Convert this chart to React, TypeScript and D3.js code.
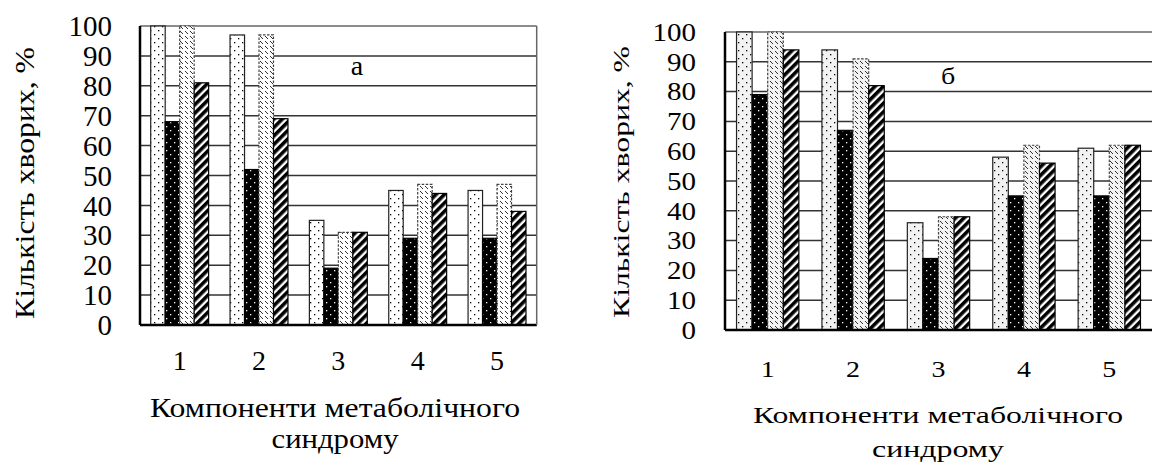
import React from "react";
import * as d3 from "d3";

const categories = ["1", "2", "3", "4", "5"];
const yTicks = [0, 10, 20, 30, 40, 50, 60, 70, 80, 90, 100];

// panel "а"
const a1 = [100, 97, 35, 45, 45];
const a2 = [68, 52, 19, 29, 29];
const a3 = [100, 97, 31, 47, 47];
const a4 = [81, 69, 31, 44, 38];

// panel "б"
const b1 = [100, 94, 36, 58, 61];
const b2 = [79, 67, 24, 45, 45];
const b3 = [100, 91, 38, 62, 62];
const b4 = [94, 82, 38, 56, 62];

const yTitle = "Кількість  хворих, %";
const xTitle1 = "Компоненти метаболічного";
const xTitle2 = "синдрому";

const FONT = "Liberation Serif, Times New Roman, Tinos, DejaVu Serif, serif";

type Panel = {
  id: string;
  label: string;
  series: number[][];
  x0: number;
  x1: number;
  yTop: number;
  yBottom: number;
  labelX: number;
  labelY: number;
  tickRight: number;
  yTitleX: number;
  yTitleY: number;
  xTickY: number;
  xTitleY1: number;
  xTitleY2: number;
  xTitleCx: number;
  x2Len: number;
  light: string;
  sy: number;
  rightBorder: boolean;
};

const panels: Panel[] = [
  {
    id: "a", label: "а", series: [a1, a2, a3, a4],
    x0: 140, x1: 536.7, yTop: 26, yBottom: 325,
    labelX: 357, labelY: 75, tickRight: 112,
    yTitleX: 24, yTitleY: 183, xTickY: 370, xTitleY1: 417, xTitleY2: 448, xTitleCx: 335, x2Len: 127,
    light: "#ffffff", sy: 1, rightBorder: true,
  },
  {
    id: "b", label: "б", series: [b1, b2, b3, b4],
    x0: 725, x1: 1152, yTop: 32, yBottom: 330,
    labelX: 948, labelY: 84, tickRight: 696,
    yTitleX: 621, yTitleY: 182, xTickY: 377, xTitleY1: 423, xTitleY2: 457, xTitleCx: 938, x2Len: 132,
    light: "#f2f2f2", sy: 0.86, rightBorder: false,
  },
];

function Patterns({ p }: { p: Panel }) {
  return (
    <>
      <pattern id={`dots-${p.id}`} width="8" height="8" patternUnits="userSpaceOnUse">
        <rect width="8" height="8" fill={p.light} />
        <rect x="2" y="2" width="1.3" height="1.3" fill="#000" />
        <rect x="6" y="6" width="1.3" height="1.3" fill="#000" />
      </pattern>
      <pattern id={`bdots-${p.id}`} width="8" height="8" patternUnits="userSpaceOnUse">
        <rect width="8" height="8" fill="#000" />
        <rect x="2" y="2" width="1.3" height="1.3" fill="#fff" />
        <rect x="6" y="6" width="1.3" height="1.3" fill="#fff" />
      </pattern>
      <pattern id={`hatch-${p.id}`} width="5" height="5" patternUnits="userSpaceOnUse">
        <rect width="5" height="5" fill={p.light} />
        <line x1="0" y1="1" x2="3" y2="4" stroke="#333" strokeWidth="1" />
      </pattern>
      <pattern id={`stripe-${p.id}`} width="6" height="6" patternUnits="userSpaceOnUse" patternTransform="rotate(45)">
        <rect width="6" height="6" fill="#fff" />
        <rect width="3.6" height="6" fill="#000" />
      </pattern>
    </>
  );
}

const txt: React.CSSProperties = { fontFamily: FONT };

function ChartPanel({ p }: { p: Panel }) {
  const x = d3.scaleBand<string>().domain(categories).range([p.x0, p.x1]).paddingInner(0.27).paddingOuter(0.135);
  const xs = d3.scaleBand<number>().domain([0, 1, 2, 3]).range([0, x.bandwidth()]);
  const y = d3.scaleLinear().domain([0, 100]).range([p.yBottom, p.yTop]);
  const fills = [`url(#dots-${p.id})`, `url(#bdots-${p.id})`, `url(#hatch-${p.id})`, `url(#stripe-${p.id})`];
  const strokes = ["#222", "#000", "#444", "#000"];
  const dash = [undefined, undefined, "2.5,1.5", undefined];
  const textT = (tx: number, ty: number) => `translate(${tx},${ty}) scale(1,${p.sy})`;

  return (
    <g>
      {yTicks.map((t) => (
        <line key={t} x1={p.x0} x2={p.x1} y1={y(t)} y2={y(t)} stroke={t === 100 ? "#666" : "#333"} strokeWidth={1.5} />
      ))}
      {categories.map((c, ci) => (
        <g key={c}>
          {p.series.map((s, si) => (
            <rect
              key={si}
              x={(x(c) as number) + (xs(si) as number)}
              y={y(s[ci])}
              width={xs.bandwidth()}
              height={y(0) - y(s[ci])}
              fill={fills[si]}
              stroke={strokes[si]}
              strokeWidth={1.2}
              strokeDasharray={dash[si]}
            />
          ))}
        </g>
      ))}
      <line x1={p.x0} x2={p.x0} y1={p.yTop} y2={p.yBottom} stroke="#000" strokeWidth={2.5} />
      <line x1={p.x0} x2={p.x1} y1={p.yBottom} y2={p.yBottom} stroke="#000" strokeWidth={2.5} />
      {p.rightBorder && (
        <line x1={p.x1} x2={p.x1} y1={p.yTop} y2={p.yBottom} stroke="#666" strokeWidth={1.5} />
      )}
      {yTicks.map((t) => (
        <text key={t} transform={textT(p.tickRight, y(t))} dy="0.35em" textAnchor="end" fontSize={29} style={txt} fill="#000">
          {t}
        </text>
      ))}
      {categories.map((c) => (
        <text key={c} transform={textT((x(c) as number) + x.bandwidth() / 2, p.xTickY)} textAnchor="middle" fontSize={28} style={txt} fill="#000">
          {c}
        </text>
      ))}
      <text transform={textT(p.labelX, p.labelY)} textAnchor="middle" fontSize={28} style={txt} fill="#000">
        {p.label}
      </text>
      <text transform={`translate(${p.yTitleX},${p.yTitleY}) rotate(-90) scale(1,${p.sy})`} dy="0.35em" textAnchor="middle" fontSize={28} style={txt} fill="#000" textLength={272} lengthAdjust="spacingAndGlyphs">
        {yTitle}
      </text>
      <text transform={textT(p.xTitleCx, p.xTitleY1)} textAnchor="middle" fontSize={28} style={txt} fill="#000" textLength={370} lengthAdjust="spacingAndGlyphs">
        {xTitle1}
      </text>
      <text transform={textT(p.xTitleCx, p.xTitleY2)} textAnchor="middle" fontSize={28} style={txt} fill="#000" textLength={p.x2Len} lengthAdjust="spacingAndGlyphs">
        {xTitle2}
      </text>
    </g>
  );
}

export default function App() {
  return (
    <svg
      width={1152}
      height={465}
      viewBox="0 0 1152 465"
      style={{ position: "absolute", left: 0, top: 0, background: "#fff" }}
    >
      <defs>
        {panels.map((p) => (
          <Patterns key={p.id} p={p} />
        ))}
      </defs>
      <rect width={1152} height={465} fill="#fff" />
      {panels.map((p) => (
        <ChartPanel key={p.id} p={p} />
      ))}
    </svg>
  );
}
